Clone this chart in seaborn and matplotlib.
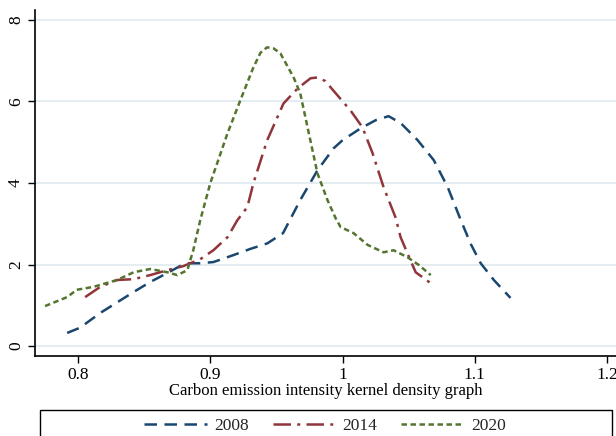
"""Kernel density of carbon emission intensity, 2008 / 2014 / 2020."""

import matplotlib

matplotlib.use("Agg")
import matplotlib.pyplot as plt
import pandas as pd
import seaborn as sns
from matplotlib.patches import Rectangle

# Valores
x_2008 = [0.7917, 0.8015, 0.8167, 0.8290, 0.8417, 0.8545, 0.8674, 0.8810, 0.8924,
          0.9023, 0.9174, 0.9300, 0.9432, 0.9550, 0.9680, 0.9810, 0.9932, 1.0000,
          1.0136, 1.0250, 1.0348, 1.0440, 1.0568, 1.0690, 1.0795, 1.0894, 1.0970,
          1.1045, 1.1144, 1.1270]
y_2008 = [0.32, 0.45, 0.81, 1.06, 1.32, 1.57, 1.79, 2.03, 2.03,
          2.06, 2.23, 2.38, 2.52, 2.77, 3.58, 4.31, 4.85, 5.05,
          5.34, 5.54, 5.64, 5.47, 5.05, 4.56, 3.90, 3.09, 2.50,
          2.03, 1.62, 1.18]

x_2014 = [0.8053, 0.8167, 0.8295, 0.8420, 0.8545, 0.8674, 0.8795, 0.8924, 0.9023,
          0.9130, 0.9205, 0.9280, 0.9326, 0.9430, 0.9553, 0.9660, 0.9758, 0.9810,
          0.9870, 0.9930, 1.0060, 1.0150, 1.0227, 1.0310, 1.0400, 1.0439, 1.0490,
          1.0553, 1.0667]
y_2014 = [1.20, 1.45, 1.62, 1.64, 1.74, 1.86, 1.96, 2.13, 2.35,
          2.67, 3.09, 3.41, 4.00, 5.05, 5.95, 6.32, 6.57, 6.59,
          6.50, 6.27, 5.78, 5.37, 4.73, 3.90, 3.16, 2.67, 2.28,
          1.81, 1.54]

x_2020 = [0.7750, 0.7917, 0.7990, 0.8114, 0.8295, 0.8420, 0.8545, 0.8674, 0.8750,
          0.8826, 0.8871, 0.8924, 0.9000, 0.9130, 0.9227, 0.9326, 0.9380, 0.9430,
          0.9480, 0.9530, 0.9630, 0.9680, 0.9735, 0.9810, 0.9886, 0.9947, 0.9985,
          1.0083, 1.0190, 1.0310, 1.0386, 1.0490, 1.0576, 1.0667]
y_2020 = [0.98, 1.20, 1.38, 1.45, 1.62, 1.81, 1.89, 1.81, 1.74,
          1.86, 2.35, 3.09, 4.00, 5.22, 6.03, 6.84, 7.20, 7.33,
          7.30, 7.18, 6.59, 6.20, 5.37, 4.24, 3.58, 3.14, 2.92,
          2.77, 2.48, 2.30, 2.35, 2.18, 1.99, 1.74]

anos = ["2008", "2014", "2020"]
cores = {"2008": "#1a476f", "2014": "#90353b", "2020": "#55752f"}
tracos = {"2008": (5.0, 3.0), "2014": (7.0, 2.5, 1.2, 2.5), "2020": (2.2, 1.4)}

df = pd.concat(
    [
        pd.DataFrame({"x": x_2008, "y": y_2008, "ano": "2008"}),
        pd.DataFrame({"x": x_2014, "y": y_2014, "ano": "2014"}),
        pd.DataFrame({"x": x_2020, "y": y_2020, "ano": "2020"}),
    ],
    ignore_index=True,
)

sns.set_theme(style="white")
plt.rcParams["font.family"] = ["Liberation Serif", "DejaVu Serif"]

fig = plt.figure(figsize=(6.16, 4.36), dpi=100)
ax = fig.add_axes([35 / 616, 80 / 436, 581 / 616, 346 / 436])

sns.lineplot(
    data=df,
    x="x",
    y="y",
    hue="ano",
    style="ano",
    hue_order=anos,
    style_order=anos,
    palette=cores,
    dashes=tracos,
    estimator=None,
    sort=False,
    linewidth=1.8,
    ax=ax,
)

ax.set_xlim(0.7674, 1.2068)
ax.set_ylim(-0.245, 8.245)
ax.set_xticks([0.8, 0.9, 1.0, 1.1, 1.2])
ax.set_xticklabels(["0.8", "0.9", "1", "1.1", "1.2"])
ax.set_yticks([0, 2, 4, 6, 8])
ax.set_yticklabels(["0", "2", "4", "6", "8"], rotation=90, va="center")
ax.tick_params(axis="both", direction="out", length=5, width=1, color="black",
               labelsize=12.5, labelcolor="black", pad=3)
ax.tick_params(axis="x", bottom=True)
ax.tick_params(axis="y", left=True)
ax.yaxis.grid(True, color="#e2edf1", linewidth=1.3)
ax.xaxis.grid(False)
for s in ["top", "right"]:
    ax.spines[s].set_visible(False)
for s in ["left", "bottom"]:
    ax.spines[s].set_color("black")
    ax.spines[s].set_linewidth(1.2)
ax.set_xlabel("Carbon emission intensity kernel density graph", fontsize=12,
              color="black", labelpad=0)
ax.set_ylabel("")

handles, labels = ax.get_legend_handles_labels()
ax.get_legend().remove()
fig.patches.append(
    Rectangle((40 / 616, -0.05), 572 / 616, (0.05 + 26 / 436),
              transform=fig.transFigure, fill=False, edgecolor="black",
              linewidth=1.0)
)
fig.legend(handles, labels, ncol=3, loc="center", frameon=False,
           bbox_to_anchor=(325 / 616, 10 / 436), fontsize=12.5,
           handlelength=3.6, columnspacing=1.4, handletextpad=0.4)

fig.savefig("out.png", dpi=100)
